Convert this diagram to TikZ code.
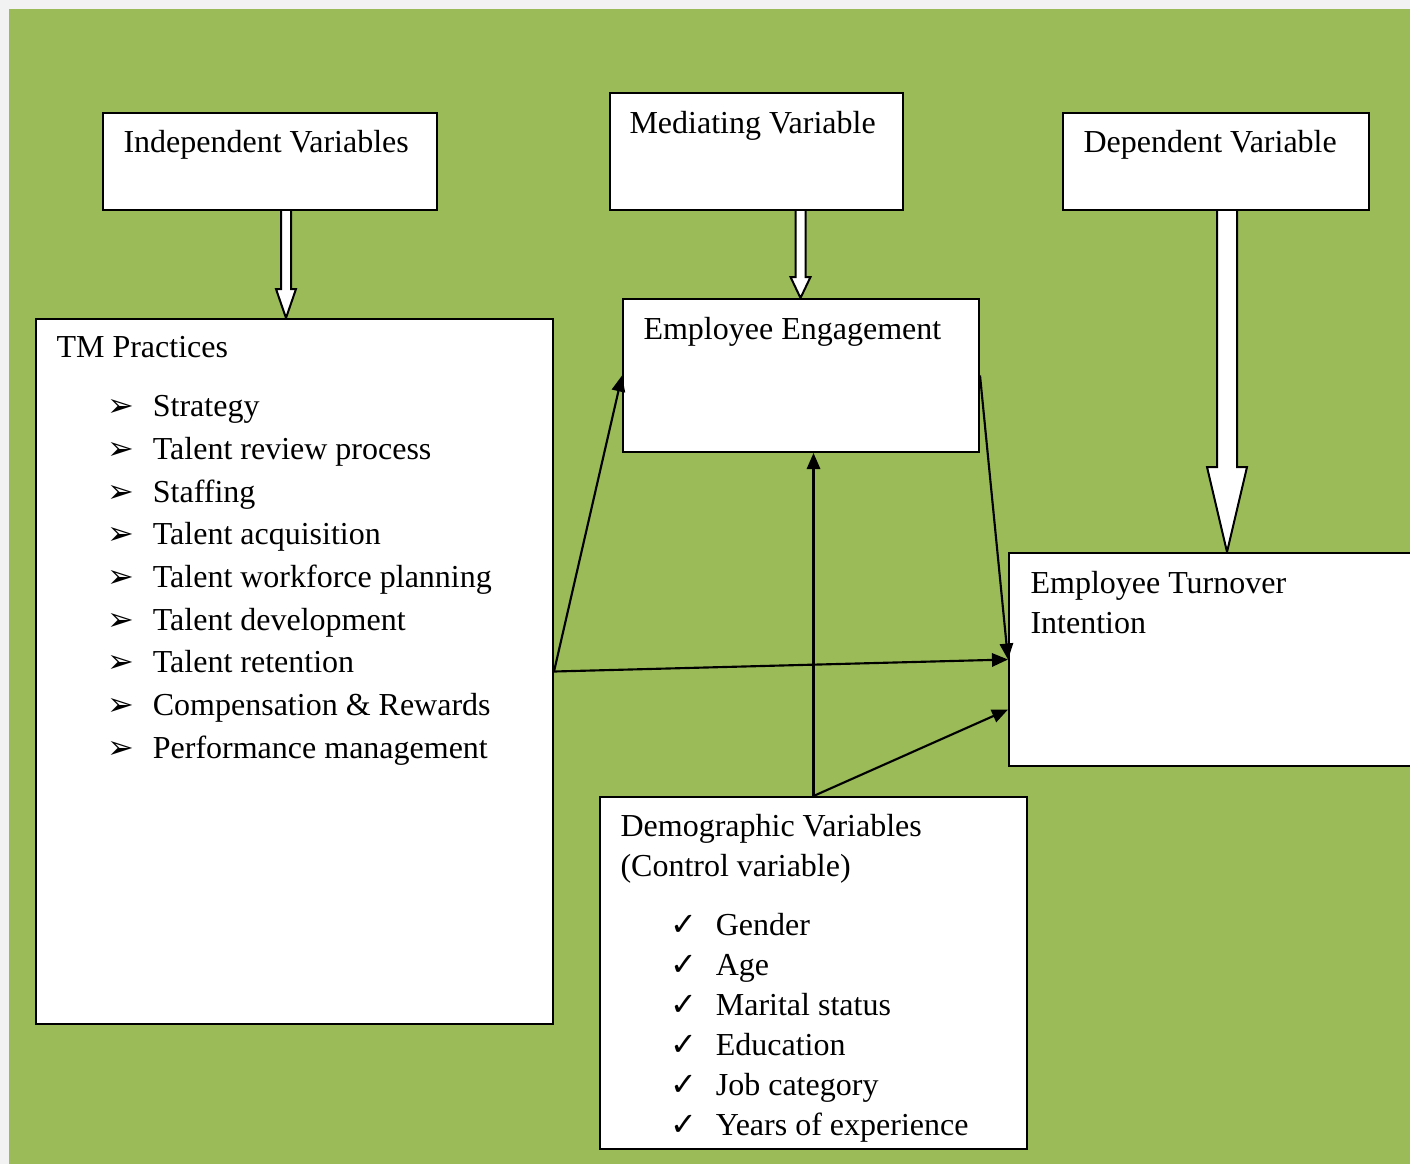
\documentclass[tikz,border=0pt]{standalone}
\usepackage{fontspec}
\setmainfont{Liberation Serif}
\newfontfamily\symfont{DejaVu Sans}
\usetikzlibrary{calc, positioning, arrows.meta}

\definecolor{olive}{HTML}{9BBB59}
\definecolor{paper}{HTML}{F2F2F2}

\newcommand{\tmbullet}{\makebox[17pt][l]{\symfont\large ➢}}
\newcommand{\ctrlcheck}{\makebox[17pt][l]{\symfont\large ✓}}

\begin{document}
\begin{tikzpicture}[
          x=0.375pt, y=-0.375pt,  % one unit = one pixel of the layout
          every node/.style={inner sep=0pt, font=\fontsize{12}{15}\selectfont},
          box/.style={draw, fill=white, line width=0.75pt, anchor=north west},
          boxsize/.style 2 args={minimum width=#1*0.375pt, minimum height=#2*0.375pt},
          lbl/.style={anchor=base west, align=left}, % base = last line
          hollow/.style={draw, fill=white, line width=0.75pt},
          link/.style={draw, line width=0.8pt, -{Triangle[length=6pt, width=5pt]}}
        ]
        \clip (0,0) rectangle (1410,1164);
        \fill[paper] (0,0) rectangle (1410,1164);
        \fill[olive] (9,9) rectangle (1410,1164);

        % headers
        \node[box, boxsize={334}{97}] (ind) at (102,112) {};
        \node[box, boxsize={293}{117}] (med) at (609,92) {};
        \node[box, boxsize={306}{97}] (dep) at (1062,112) {};

        % hollow arrows from the headers
        \path (ind.south) ++(16,0) coordinate (a1s);
        \path (med.south) ++(44,0) coordinate (a2s);
        \path (dep.south) ++(11,0) coordinate (a3s);
        \coordinate (a1e) at (a1s |- 0,318);
        \coordinate (a2e) at (a2s |- 0,298);
        \coordinate (a3e) at (a3s |- 0,552);
        \draw[hollow] ($(a1s)+(-5,0)$) -- ($(a1e)+(-5,-29)$) -- ($(a1e)+(-10,-29)$) -- (a1e)
          -- ($(a1e)+(10,-29)$) -- ($(a1e)+(5,-29)$) -- ($(a1s)+(5,0)$);
        \draw[hollow] ($(a2s)+(-5,0)$) -- ($(a2e)+(-5,-21)$) -- ($(a2e)+(-10,-21)$) -- (a2e)
          -- ($(a2e)+(10,-21)$) -- ($(a2e)+(5,-21)$) -- ($(a2s)+(5,0)$);
        \draw[hollow] ($(a3s)+(-10,0)$) -- ($(a3e)+(-10,-85)$) -- ($(a3e)+(-20,-85)$) -- (a3e)
          -- ($(a3e)+(20,-85)$) -- ($(a3e)+(10,-85)$) -- ($(a3s)+(10,0)$);

        % model boxes
        \node[box, boxsize={517}{705}] (tm) at (35,318) {};
        \node[box, boxsize={356}{153}] (eng) at (622,298) {};
        \node[box, boxsize={420}{213}] (turn) at (1008,552) {};
        \node[box, boxsize={427}{352}] (demo) at (599,796) {};

        % texts
        \node[lbl] (indtxt) at ($(ind.north west)+(21,40)$) {Independent Variables};
        \node[lbl] (medtxt) at ($(med.north west)+(20,41)$) {Mediating Variable};
        \node[lbl] (deptxt) at ($(dep.north west)+(21,40)$) {Dependent Variable};
        \node[lbl] (tmtxt) at ($(tm.north west)+(21,39)$) {TM Practices};
        \node[lbl, font=\fontsize{12}{16}\selectfont] (tmlist) at ($(tm.north west)+(72,440)$)
          {\tmbullet Strategy\\ \tmbullet Talent review process\\ \tmbullet Staffing\\
           \tmbullet Talent acquisition\\ \tmbullet Talent workforce planning\\
           \tmbullet Talent development\\ \tmbullet Talent retention\\
           \tmbullet Compensation \& Rewards\\ \tmbullet Performance management};
        \node[lbl] (engtxt) at ($(eng.north west)+(21,41)$) {Employee Engagement};
        \node[lbl] (turntxt) at ($(turn.north west)+(22,81)$) {Employee Turnover\\Intention};
        \node[lbl] (demotxt) at ($(demo.north west)+(21,80)$) {Demographic Variables\\(Control variable)};
        \node[lbl] (demolist) at ($(demo.north west)+(71,339)$)
          {\ctrlcheck Gender\\ \ctrlcheck Age\\ \ctrlcheck Marital status\\
           \ctrlcheck Education\\ \ctrlcheck Job category\\ \ctrlcheck Years of experience};

        % relations
        \draw[link] (tm.east) -- (eng.west);
        \draw[link] (tm.east) -- (turn.west);
        \draw[link] (eng.east) -- (turn.west);
        \draw[link] (demo.north) -- (demo.north |- eng.south);
        \draw[link] (demo.north) -- ($(turn.west)+(0,50)$);
\end{tikzpicture}
\end{document}
